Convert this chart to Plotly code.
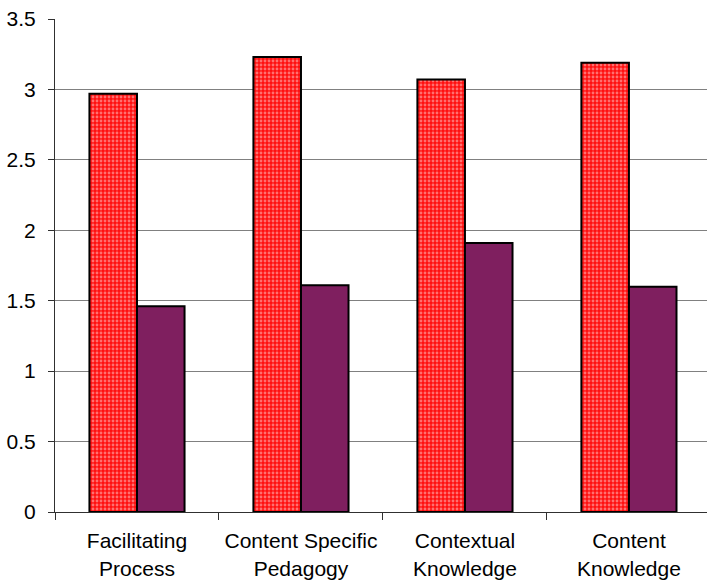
import plotly.graph_objects as go

categories = ["Facilitating<br>Process", "Content Specific<br>Pedagogy",
              "Contextual<br>Knowledge", "Content<br>Knowledge"]
series_a = [2.97, 3.23, 3.07, 3.19]
series_b = [1.46, 1.61, 1.91, 1.60]
y_ticks = [0, 0.5, 1, 1.5, 2, 2.5, 3, 3.5]
y_tick_text = ["0", "0.5", "1", "1.5", "2", "2.5", "3", "3.5"]

fig = go.Figure()
fig.add_trace(go.Bar(
    x=categories, y=series_a,
    marker=dict(color="#ff1010",
                line=dict(color="black", width=2),
                pattern=dict(shape=".", fgcolor="#ffd0d0", bgcolor="#ff1010",
                             size=4, solidity=0.4)),
))
fig.add_trace(go.Bar(
    x=categories, y=series_b,
    marker=dict(color="#7f1f5f", line=dict(color="black", width=2)),
))

fig.update_layout(
    width=707, height=582,
    margin=dict(l=55, r=0, t=19, b=70),
    paper_bgcolor="white", plot_bgcolor="white",
    showlegend=False,
    barmode="group", bargap=0.42, bargroupgap=0,
    font=dict(family="Liberation Sans, Arial", size=21, color="black"),
)
fig.update_xaxes(
    range=[-0.5, 3.476], automargin=False, tickangle=0,
    showline=True, linecolor="#303030", linewidth=1,
    ticks="outside", tickson="boundaries", ticklen=7, tickcolor="#303030",
    showgrid=False, tickfont=dict(size=21), ticklabelstandoff=10,
)
fig.update_yaxes(
    range=[0, 3.5], tickvals=y_ticks, ticktext=y_tick_text, automargin=False,
    showline=True, linecolor="#303030", linewidth=1,
    ticks="outside", ticklen=6, tickcolor="#303030",
    showgrid=True, gridcolor="#808080", gridwidth=1,
    zeroline=False, tickfont=dict(size=21), ticklabelstandoff=8,
)

fig.write_html("out.html")
